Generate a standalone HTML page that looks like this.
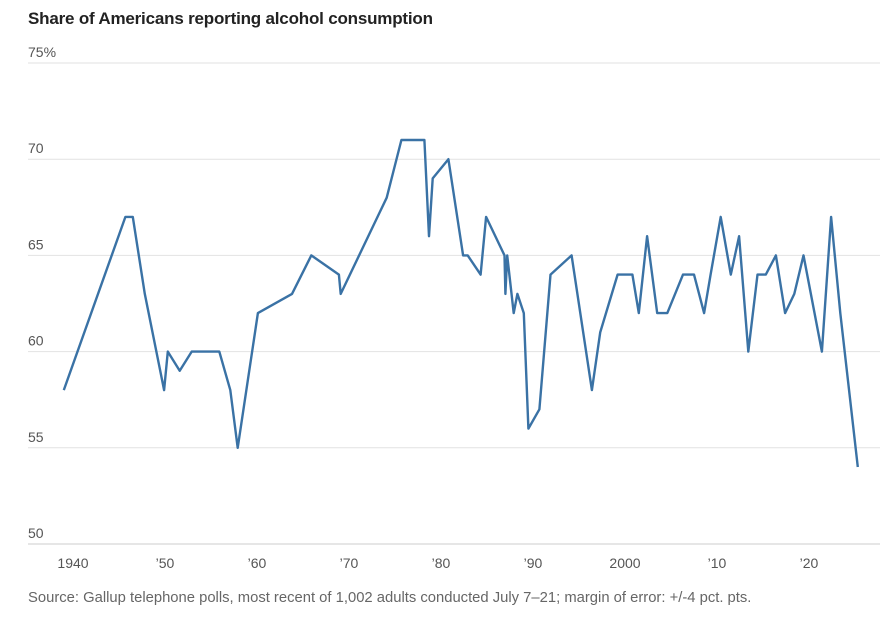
<!DOCTYPE html>
<html><head><meta charset="utf-8"><style>
body{margin:0;background:#fff;font-family:"Liberation Sans",sans-serif;}
svg{display:block}
</style></head><body>
<svg id="chart" width="894" height="627">
<text x="28" y="24" font-size="17" font-weight="bold" fill="#222" textLength="405">Share of Americans reporting alcohol consumption</text>
<g id="grid"></g><g id="xticks"></g>
<path id="line" fill="none" stroke="#3a72a5" stroke-width="2.4" stroke-linejoin="round"></path>
<text x="28" y="602" font-size="14.8" fill="#666">Source: Gallup telephone polls, most recent of 1,002 adults conducted July 7–21; margin of error: +/-4 pct. pts.</text>
</svg>
<script>
const years=[1939,1945.7,1946.5,1947.8,1949.9,1950.3,1951.6,1952.9,1955.9,1957.1,1957.9,1960.1,1963.8,1965.9,1968.9,1969.1,1974.1,1975.7,1978.2,1978.7,1979.1,1980.8,1982.4,1982.9,1984.3,1984.9,1986.9,1987.0,1987.2,1987.9,1988.3,1989.0,1989.5,1990.7,1991.9,1994.2,1996.4,1997.3,1999.2,2000.8,2001.5,2002.4,2003.5,2004.6,2006.3,2007.5,2008.6,2009.3,2010.4,2011.5,2012.4,2013.4,2014.4,2015.3,2016.4,2017.4,2018.4,2019.4,2021.4,2022.4,2023.4,2025.3];
const values=[58,67,67,63,58,60,59,60,60,58,55,62,63,65,64,63,68,71,71,66,69,70,65,65,64,67,65,63,65,62,63,62,56,57,64,65,58,61,64,64,62,66,62,62,64,64,62,64,67,64,66,60,64,64,65,62,63,65,60,67,62,54];
const yTicks=[50,55,60,65,70,75];
const yLabels=["50","55","60","65","70","75%"];
const xTicks=[1940,1950,1960,1970,1980,1990,2000,2010,2020];
const xLabels=["1940","'50","'60","'70","'80","'90","2000","'10","'20"];
const X=y=>73+(y-1940)*9.2;
const Y=v=>544-(v-50)*19.24;
const ns="http://www.w3.org/2000/svg";
const grid=document.getElementById('grid'), xt=document.getElementById('xticks');
yTicks.forEach((t,i)=>{
 const l=document.createElementNS(ns,'line');
 l.setAttribute('x1',28);l.setAttribute('x2',880);l.setAttribute('y1',Y(t));l.setAttribute('y2',Y(t));
 l.setAttribute('stroke',t===50?'#ccc':'#e2e2e2');l.setAttribute('stroke-width',1);
 
 
 grid.appendChild(l);
 const tx=document.createElementNS(ns,'text');
 tx.setAttribute('x',28);tx.setAttribute('y',Y(t)-6);tx.setAttribute('font-size',14);tx.setAttribute('fill','#555');
 tx.textContent=yLabels[i];
 
 
 grid.appendChild(tx);
});
xTicks.forEach((t,i)=>{
 const tx=document.createElementNS(ns,'text');
 tx.setAttribute('x',X(t));tx.setAttribute('y',568);tx.setAttribute('font-size',14);tx.setAttribute('fill','#555');tx.setAttribute('text-anchor','middle');
 tx.textContent=xLabels[i].replace("'","\u2019");
 
 
 xt.appendChild(tx);
});
document.getElementById('line').setAttribute('d',years.map((y,i)=>(i?'L':'M')+X(y).toFixed(1)+','+Y(values[i]).toFixed(1)).join(''));
</script>
</body></html>
